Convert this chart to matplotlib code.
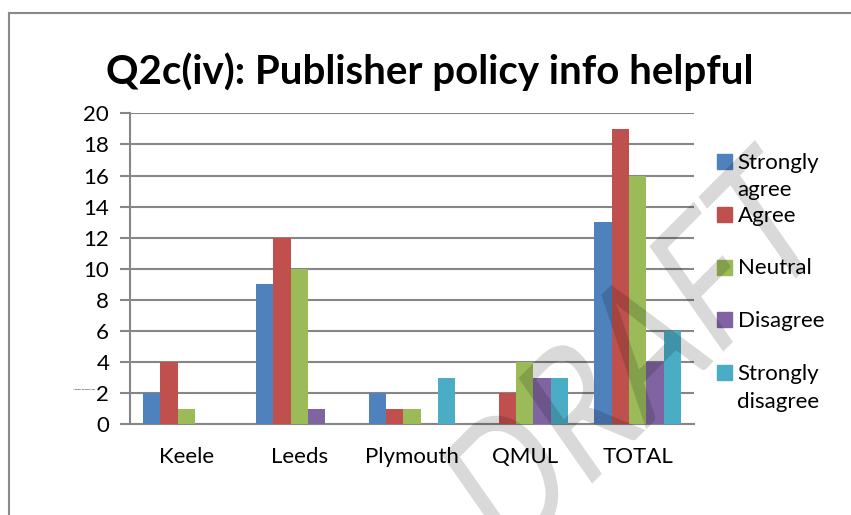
import matplotlib.pyplot as plt
from matplotlib.lines import Line2D
from matplotlib.patches import Rectangle, PathPatch
from matplotlib.textpath import TextPath
from matplotlib.font_manager import FontProperties
from matplotlib.transforms import Affine2D
import numpy as np

# data
categories = ['Keele', 'Leeds', 'Plymouth', 'QMUL', 'TOTAL']
series_names = ['Strongly\nagree', 'Agree', 'Neutral', 'Disagree', 'Strongly\ndisagree']
strongly_agree = [2, 9, 2, 0, 13]
agree = [4, 12, 1, 2, 19]
neutral = [1, 10, 1, 4, 16]
disagree = [0, 1, 0, 3, 4]
strongly_disagree = [0, 0, 3, 3, 6]
y_ticks = list(range(0, 21, 2))

colors = ['#4F81BD', '#C0504D', '#9BBB59', '#8064A2', '#4BACC6']
grid_col = '#868686'

plt.rcParams['font.family'] = ['Lato', 'DejaVu Sans']

W, H = 851, 515
fig = plt.figure(figsize=(W / 100, H / 100), dpi=100)
fig.patch.set_facecolor('white')

# axes placed in pixel terms
left, right, top, bottom = 130, 694, 113.3, 424.3
ax = fig.add_axes([left / W, 1 - bottom / H, (right - left) / W, (bottom - top) / H])

all_series = [strongly_agree, agree, neutral, disagree, strongly_disagree]
x = np.arange(len(categories))
bw = 0.154
for i, vals in enumerate(all_series):
    ax.bar(x + (i - 2) * bw, vals, width=bw, color=colors[i], zorder=3, linewidth=0)

ax.set_xlim(-0.5, len(categories) - 0.5)
ax.set_ylim(0, 20)
ax.set_yticks(y_ticks)
ax.set_xticks(x)
ax.set_xticklabels(categories, fontsize=16)
ax.tick_params(axis='y', labelsize=16, length=7, width=1.5, color=grid_col, pad=8)
ax.tick_params(axis='x', length=0, pad=16)
ax.yaxis.grid(True, color=grid_col, linewidth=1.5, zorder=0)
for side in ['top', 'right']:
    ax.spines[side].set_visible(False)
for side in ['left', 'bottom']:
    ax.spines[side].set_color(grid_col)
    ax.spines[side].set_linewidth(1.5)

# tiny axis title near the "2" tick, as in the reference
fig.text(73 / W, 1 - 389 / H, 'Number of Responses', fontsize=1.6, va='center')

# title
fig.text(429.5 / W, 1 - 84 / H, 'Q2c(iv): Publisher policy info helpful',
         fontsize=29, fontweight='bold', ha='center', va='baseline')

# legend drawn by hand so the square sits on the first text line
for i, name in enumerate(series_names):
    y_sq = 154 + i * 52.75
    fig.patches.append(Rectangle((717 / W, 1 - (y_sq + 15) / H), 15 / W, 15 / H,
                                 transform=fig.transFigure, color=colors[i]))
    for j, line in enumerate(name.split('\n')):
        fig.text(737.5 / W, 1 - (y_sq + 15 + j * 27.5) / H, line, fontsize=16,
                 va='baseline', ha='left')

# outer chart border (cut off at right and bottom)
fig.add_artist(Line2D([9 / W, 9 / W], [0, 1 - 13 / H], transform=fig.transFigure,
                      color='#8a8a8a', linewidth=1.5))
fig.add_artist(Line2D([9 / W, 1], [1 - 13 / H, 1 - 13 / H], transform=fig.transFigure,
                      color='#8a8a8a', linewidth=1.5))

# DRAFT watermark: narrowed, rotated, then stretched a bit vertically like the scan
tp = TextPath((0, 0), 'DRAFT', size=160, prop=FontProperties(family='Lato'))
bb = tp.get_extents()
wm = Affine2D().translate(-bb.x1, -bb.y1).scale(0.82, 1).rotate_deg(40).scale(1, 1.2) \
    .translate(755, H - 140)
fig.add_artist(PathPatch(tp, transform=wm, facecolor='black', edgecolor='none',
                         alpha=0.15, zorder=10))

fig.savefig('out.png', dpi=100)
